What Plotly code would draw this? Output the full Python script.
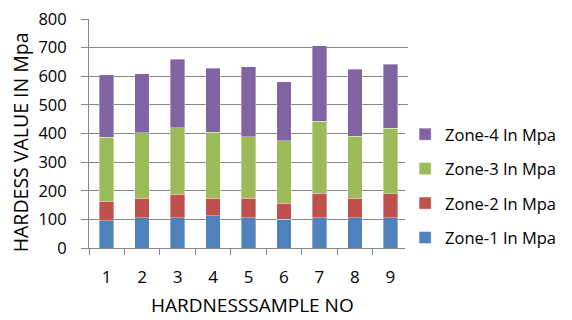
import plotly.graph_objects as go

samples = ["1", "2", "3", "4", "5", "6", "7", "8", "9"]
zone1 = [95, 106, 106, 112, 105, 100, 105, 106, 106]
zone2 = [68, 67, 82, 61, 68, 56, 86, 68, 84]
zone3 = [224, 230, 232, 232, 216, 218, 251, 217, 229]
zone4 = [219, 205, 239, 223, 245, 207, 265, 233, 223]

x_title = "HARDNESSSAMPLE NO"
y_title = "HARDESS VALUE IN Mpa"

series = [
    ("Zone-1 In Mpa", zone1, "#4F81BD"),
    ("Zone-2 In Mpa", zone2, "#C0504D"),
    ("Zone-3 In Mpa", zone3, "#9BBB59"),
    ("Zone-4 In Mpa", zone4, "#8064A2"),
]

FONT = "Open Sans"
fig = go.Figure()
for i, (name, vals, col) in enumerate(series):
    fig.add_trace(go.Bar(
        x=samples, y=vals, name=name, legendgroup=f"g{i}", legendrank=10 - i,
        marker=dict(color=col, line=dict(width=0.6, color="rgba(255,255,255,0.6)")),
    ))

fig.update_layout(
    width=564, height=312,
    margin=dict(l=81, r=158, t=11, b=72),
    barmode="stack", bargap=0.59,
    plot_bgcolor="white", paper_bgcolor="white",
    font=dict(family=FONT, size=17, color="#000000"),
    showlegend=True,
    legend=dict(
        x=1.48, y=0.271, xanchor="right", yanchor="middle",
        traceorder="grouped", tracegroupgap=10,
        font=dict(family=FONT, size=16.5, color="#000000"),
        itemwidth=30,
    ),
    xaxis=dict(
        type="category", tickson="boundaries", ticks="outside", ticklen=6,
        tickcolor="#868686", showline=True, linecolor="#868686", linewidth=1,
        showgrid=False, automargin=False, ticklabelstandoff=14,
        tickfont=dict(family=FONT, size=17),
    ),
    yaxis=dict(
        range=[0, 800], dtick=100, ticks="outside", ticklen=7,
        tickcolor="#868686", showline=True, linecolor="#868686", linewidth=1,
        showgrid=True, gridcolor="#868686", gridwidth=1, zeroline=False,
        automargin=False, ticklabelstandoff=11, ticklabeloverflow="allow",
        tickfont=dict(family=FONT, size=16.5),
    ),
    annotations=[
        dict(text=x_title, xref="paper", yref="paper", x=0.514, y=-0.249,
             xanchor="center", yanchor="middle", showarrow=False,
             font=dict(family=FONT, size=19)),
        dict(text=y_title, xref="paper", yref="paper", x=-0.212, y=0.463,
             xanchor="center", yanchor="middle", showarrow=False, textangle=-90,
             font=dict(family=FONT, size=19.5)),
    ],
)

fig.write_html("out.html")
